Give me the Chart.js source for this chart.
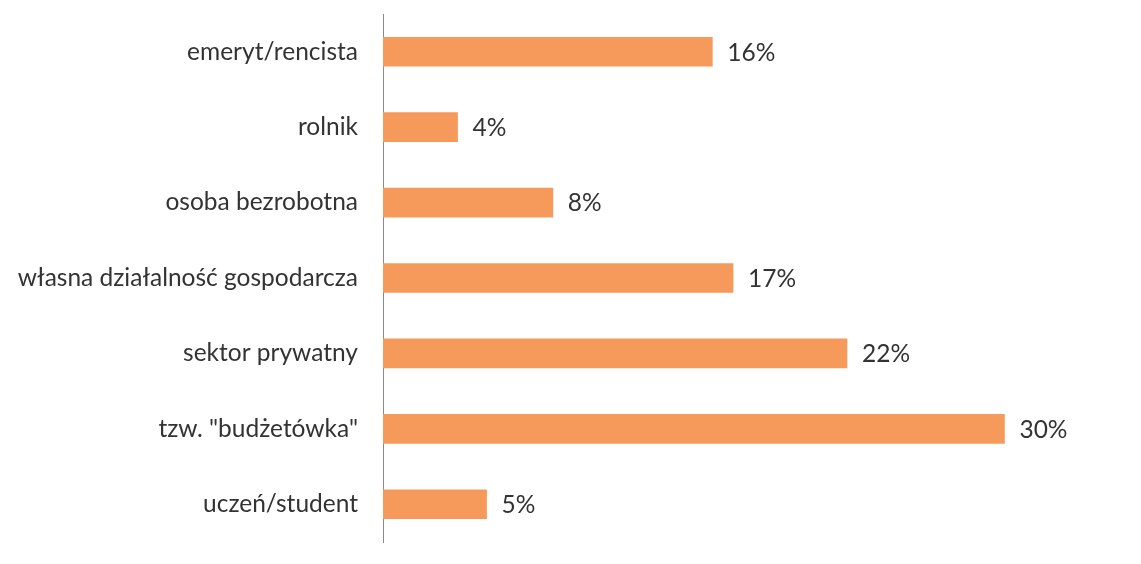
<!DOCTYPE html>
<html>
<head>
<meta charset="utf-8">
<script src="https://cdn.jsdelivr.net/npm/chart.js@4/dist/chart.umd.min.js"></script>
<style>
  html, body { margin: 0; padding: 0; background: #ffffff; }
  #wrap { width: 1141px; height: 564px; }
</style>
</head>
<body>
<div id="wrap"><canvas id="chart" width="1141" height="564"></canvas></div>
<script>
// categories, top to bottom
const categories = [
  "emeryt/rencista",
  "rolnik",
  "osoba bezrobotna",
  "własna działalność gospodarcza",
  "sektor prywatny",
  'tzw. "budżetówka"',
  "uczeń/student",
];
// shares in percent
const shares = [15.9, 3.6, 8.2, 16.9, 22.4, 30.0, 5.0];
const axisMax = 35;

const BAR_COLOR = "#f69a5b";
const TEXT_COLOR = "#333333";
const FONT = "Lato, 'Open Sans', sans-serif";
const FONT_SIZE = 24.5;

// value labels to the right of each bar
const valueLabels = {
  id: "valueLabels",
  afterDatasetsDraw: (chart) => {
    const ctx = chart.ctx;
    const meta = chart.getDatasetMeta(0);
    ctx.save();
    ctx.fillStyle = TEXT_COLOR;
    ctx.font = FONT_SIZE + "px " + FONT;
    ctx.textAlign = "left";
    ctx.textBaseline = "middle";
    meta.data.forEach((bar, i) => {
      ctx.fillText(Math.round(shares[i]) + "%", bar.x + 15, bar.y + 1);
    });
    ctx.restore();
  },
};

new Chart(document.getElementById("chart"), {
  type: "bar",
  data: {
    labels: categories,
    datasets: [
      {
        data: shares,
        backgroundColor: BAR_COLOR,
        borderWidth: 0,
        barThickness: 29,
      },
    ],
  },
  options: {
    indexAxis: "y",
    responsive: false,
    animation: false,
    layout: {
      padding: { top: 14, bottom: 22, left: 0, right: 33 },
    },
    plugins: {
      legend: { display: false },
      tooltip: { enabled: false },
    },
    scales: {
      x: {
        min: 0,
        max: axisMax,
        display: false,
      },
      y: {
        afterFit: (scale) => {
          scale.width = 383;
          // tick padding otherwise pushes the plot area down
          scale.paddingTop = 0;
          scale.paddingBottom = 0;
        },
        grid: { display: false, drawTicks: false },
        border: { display: true, color: "#8a8a8a", width: 1 },
        ticks: {
          color: TEXT_COLOR,
          padding: 25,
          font: { family: FONT, size: FONT_SIZE },
        },
      },
    },
  },
  plugins: [valueLabels],
});
</script>
</body>
</html>
